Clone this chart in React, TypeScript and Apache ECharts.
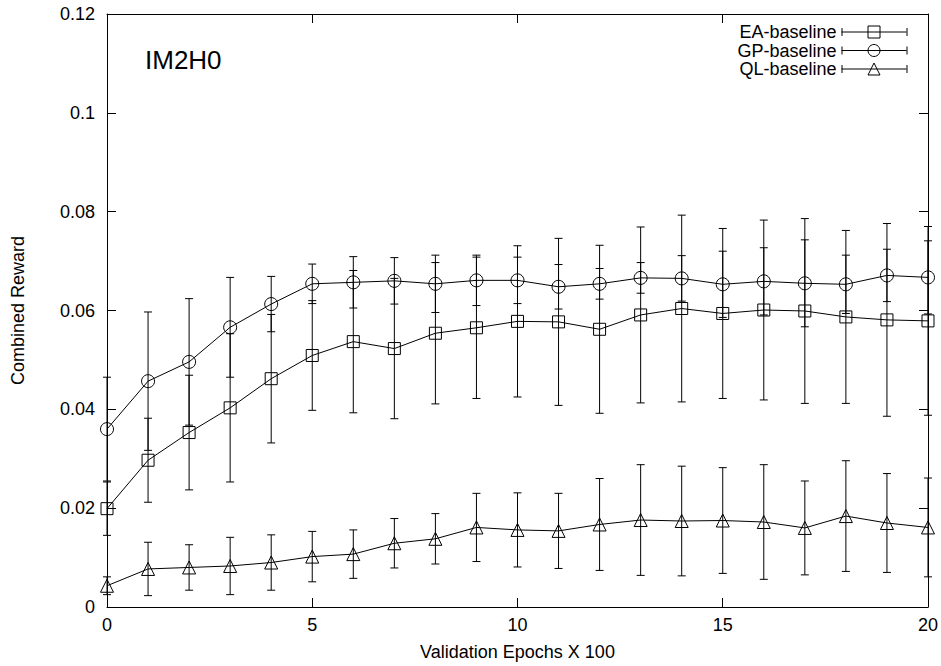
import React, { useEffect, useRef } from "react";
import * as echarts from "echarts";

const epochs = [0, 1, 2, 3, 4, 5, 6, 7, 8, 9, 10, 11, 12, 13, 14, 15, 16, 17, 18, 19, 20];

const eaMean = [0.0199, 0.0297, 0.0353, 0.0403, 0.0462, 0.0509, 0.0537, 0.0523, 0.0554, 0.0565, 0.0578, 0.0577, 0.0562, 0.0591, 0.0604, 0.0594, 0.0601, 0.0599, 0.0587, 0.0581, 0.0579];
const eaErr = [0.0054, 0.0085, 0.0116, 0.0150, 0.0130, 0.0111, 0.0144, 0.0142, 0.0143, 0.0143, 0.0153, 0.0169, 0.0170, 0.0178, 0.0189, 0.0172, 0.0182, 0.0187, 0.0175, 0.0195, 0.0191];

const gpMean = [0.0360, 0.0457, 0.0496, 0.0566, 0.0613, 0.0654, 0.0657, 0.0660, 0.0654, 0.0661, 0.0661, 0.0648, 0.0654, 0.0666, 0.0665, 0.0653, 0.0659, 0.0655, 0.0653, 0.0671, 0.0667];
const gpErr = [0.0105, 0.0140, 0.0128, 0.0101, 0.0056, 0.0040, 0.0052, 0.0047, 0.0058, 0.0051, 0.0047, 0.0045, 0.0031, 0.0031, 0.0046, 0.0067, 0.0068, 0.0088, 0.0059, 0.0053, 0.0074];

const qlMean = [0.0043, 0.0077, 0.0080, 0.0083, 0.0090, 0.0102, 0.0107, 0.0129, 0.0138, 0.0161, 0.0156, 0.0154, 0.0167, 0.0176, 0.0174, 0.0175, 0.0172, 0.0160, 0.0184, 0.0170, 0.0161];
const qlErr = [0.0018, 0.0054, 0.0046, 0.0058, 0.0056, 0.0051, 0.0049, 0.0050, 0.0051, 0.0069, 0.0075, 0.0076, 0.0093, 0.0112, 0.0111, 0.0107, 0.0116, 0.0095, 0.0112, 0.0100, 0.0100];

const seriesNames = ["EA-baseline", "GP-baseline", "QL-baseline"];
const xTitle = "Validation Epochs X 100";
const yTitle = "Combined Reward";
const chartTitle = "IM2H0";

const FONT = "'Liberation Sans', Arial, Helvetica, sans-serif";

export default function App() {
  const ref = useRef<HTMLDivElement>(null);

  useEffect(() => {
    if (!ref.current) return;
    const chart = echarts.init(ref.current, null, { renderer: "svg" });

    const lineData = (mean: number[]) => epochs.map((x, i) => [x, mean[i]]);
    const errData = (mean: number[], err: number[]) =>
      epochs.map((x, i) => [x, mean[i] - err[i], mean[i] + err[i]]);

    const renderErr = (params: any, api: any) => {
      const x = api.value(0);
      const lo = api.coord([x, api.value(1)]);
      const hi = api.coord([x, api.value(2)]);
      const w = 4;
      const st = { stroke: "#000", lineWidth: 1 };
      return {
        type: "group",
        children: [
          { type: "line", shape: { x1: lo[0], y1: lo[1], x2: hi[0], y2: hi[1] }, style: st },
          { type: "line", shape: { x1: lo[0] - w, y1: lo[1], x2: lo[0] + w, y2: lo[1] }, style: st },
          { type: "line", shape: { x1: hi[0] - w, y1: hi[1], x2: hi[0] + w, y2: hi[1] }, style: st },
        ],
      };
    };

    const symbols = ["rect", "circle", "triangle"];
    const sizes = [12, 13, 13];
    const means = [eaMean, gpMean, qlMean];
    const errs = [eaErr, gpErr, qlErr];

    const series: any[] = [];
    means.forEach((m, k) => {
      series.push({
        name: seriesNames[k],
        type: "line",
        data: lineData(m),
        symbol: symbols[k],
        symbolSize: sizes[k],
        showAllSymbol: true,
        itemStyle: { color: "rgba(0,0,0,0)", borderColor: "#000", borderWidth: 1 },
        lineStyle: { color: "#000", width: 1 },
        z: 3,
      });
    });
    means.forEach((m, k) => {
      series.push({
        name: seriesNames[k] + " err",
        type: "custom",
        data: errData(m, errs[k]),
        renderItem: renderErr,
        clip: false,
        z: 4,
        encode: { x: 0, y: [1, 2] },
      });
    });

    const legendRowsY = [32, 50.5, 69];
    const capGraphics: any[] = [];
    legendRowsY.forEach((y) => {
      capGraphics.push({ type: "line", shape: { x1: 842, y1: y - 4, x2: 842, y2: y + 4 }, style: { stroke: "#000", lineWidth: 1 } });
      capGraphics.push({ type: "line", shape: { x1: 907, y1: y - 4, x2: 907, y2: y + 4 }, style: { stroke: "#000", lineWidth: 1 } });
    });

    const axisBase = {
      type: "value",
      axisLine: { show: true, onZero: false, lineStyle: { color: "#000", width: 1 } },
      axisTick: { show: true, inside: true, length: 9, lineStyle: { color: "#000", width: 1 } },
      splitLine: { show: false },
    };

    chart.setOption({
      animation: false,
      backgroundColor: "#fff",
      textStyle: { fontFamily: FONT, color: "#000" },
      title: {
        text: chartTitle,
        left: 145,
        top: 47,
        padding: 0,
        textStyle: { fontFamily: FONT, fontSize: 26, fontWeight: "normal", color: "#000", lineHeight: 26 },
      },
      legend: {
        data: seriesNames,
        orient: "vertical",
        align: "right",
        right: 34,
        top: 23,
        padding: 0,
        itemWidth: 65,
        itemHeight: 15,
        itemGap: 0.5,
        lineStyle: { color: "#000", width: 1 },
        itemStyle: { color: "rgba(0,0,0,0)", borderColor: "#000", borderWidth: 1 },
        textStyle: { fontFamily: FONT, fontSize: 18, color: "#000", lineHeight: 18 },
        selectedMode: false,
      },
      grid: { left: 107, right: 12, top: 14, bottom: 58 },
      xAxis: [
        {
          ...axisBase,
          position: "bottom",
          min: 0,
          max: 20,
          interval: 5,
          axisLabel: { fontFamily: FONT, fontSize: 18, color: "#000", margin: 9 },
          name: xTitle,
          nameLocation: "middle",
          nameGap: 36,
          nameTextStyle: { fontFamily: FONT, fontSize: 18, color: "#000" },
        },
        {
          ...axisBase,
          position: "top",
          min: 0,
          max: 20,
          interval: 5,
          axisLabel: { show: false },
        },
      ],
      yAxis: [
        {
          ...axisBase,
          position: "left",
          min: 0,
          max: 0.12,
          interval: 0.02,
          axisLabel: { fontFamily: FONT, fontSize: 18, color: "#000", margin: 12 },
          name: yTitle,
          nameLocation: "middle",
          nameGap: 80,
          nameTextStyle: { fontFamily: FONT, fontSize: 18, color: "#000" },
        },
        {
          ...axisBase,
          position: "right",
          min: 0,
          max: 0.12,
          interval: 0.02,
          axisLabel: { show: false },
        },
      ],
      graphic: capGraphics,
      series,
    });

    return () => chart.dispose();
  }, []);

  return (
    <div
      ref={ref}
      style={{ position: "fixed", left: 0, top: 0, width: 941, height: 666, background: "#fff" }}
    />
  );
}
